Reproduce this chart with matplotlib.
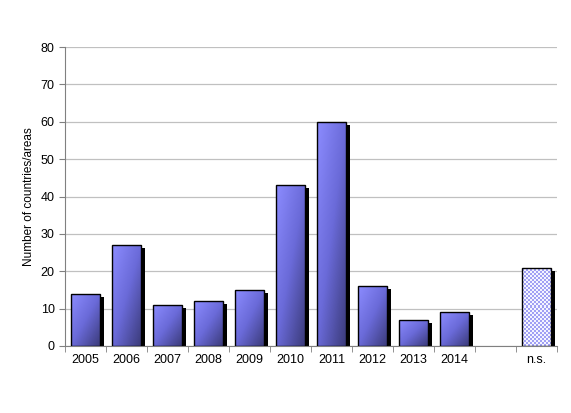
import numpy as np
import matplotlib
matplotlib.use('Agg')
import matplotlib.pyplot as plt
from matplotlib.colors import LinearSegmentedColormap

plt.rcParams['font.family'] = ['Liberation Sans', 'DejaVu Sans']

# data
years = ['2005', '2006', '2007', '2008', '2009', '2010', '2011', '2012', '2013', '2014']
counts = [14, 27, 11, 12, 15, 43, 60, 16, 7, 9]
ns_label = 'n.s.'
ns_count = 21

labels = years + ['', ns_label]
xpos = np.arange(len(labels))
ns_x = xpos[-1]

fig = plt.figure(figsize=(5.71, 4.13), dpi=100)
ax = fig.add_axes([65/571, 1 - 346/413, (557 - 65)/571, (346 - 47)/413])

width = 0.73
dx, dy = 0.08, 0.8

# grid
ax.set_ylim(0, 80)
ax.set_xlim(-0.5, len(labels) - 0.5)
ax.set_yticks(np.arange(0, 81, 10))
ax.yaxis.grid(True, color='#c0c0c0', linewidth=0.9)
ax.set_axisbelow(True)

# shadows
ax.bar(xpos[:len(years)] + dx, np.array(counts) - dy, width=width, bottom=0,
       color='black', zorder=2)
ax.bar(ns_x + dx, ns_count - dy, width=width, color='black', zorder=2)

# gradient bars (light top-left -> dark bottom-right)
cmap = LinearSegmentedColormap.from_list('g', ['#8c8cff', '#6a6ad8', '#3a3a78'])
gx, gy = np.meshgrid(np.linspace(0, 1, 64), np.linspace(0, 1, 64))
grad = (gx + gy) / 2
bars = ax.bar(xpos[:len(years)], counts, width=width, color='none',
              edgecolor='black', linewidth=1.0, zorder=4)
for b in bars:
    x0, y0 = b.get_x(), b.get_y()
    im = ax.imshow(grad, cmap=cmap, extent=[x0, x0 + b.get_width(), y0, y0 + b.get_height()],
                   origin='upper', aspect='auto', zorder=3, interpolation='bilinear')
    im.set_clip_path(b)

# n.s. bar with checker pattern
nb = ax.bar(ns_x, ns_count, width=width, color='none', edgecolor='black',
            linewidth=1.0, zorder=4)[0]
nx, ny = 15, 39
checker = (np.add.outer(np.arange(ny), np.arange(nx)) % 2).astype(float)
ccmap = LinearSegmentedColormap.from_list('c', ['#f4f4ff', '#a0a0f4'])
im = ax.imshow(checker, cmap=ccmap, extent=[nb.get_x(), nb.get_x() + nb.get_width(), 0, ns_count],
               aspect='auto', zorder=3, interpolation='nearest')
im.set_clip_path(nb)

ax.set_xlim(-0.5, len(labels) - 0.5)
ax.set_ylim(0, 80)

# axes styling
for s in ['top', 'right']:
    ax.spines[s].set_visible(False)
ax.spines['left'].set_color('#808080')
ax.spines['bottom'].set_color('#808080')
ax.set_xticks(xpos)
ax.set_xticklabels(labels, fontsize=9)
ax.tick_params(axis='x', length=0, pad=6)
ax.set_xticks(np.arange(-0.5, len(labels), 1), minor=True)
ax.tick_params(axis='x', which='minor', length=4, color='#808080', direction='out')
ax.tick_params(axis='y', length=4, color='#808080', labelsize=9)
ax.set_ylabel('Number of countries/areas', fontsize=8.5)

plt.savefig('out.png', dpi=100)
